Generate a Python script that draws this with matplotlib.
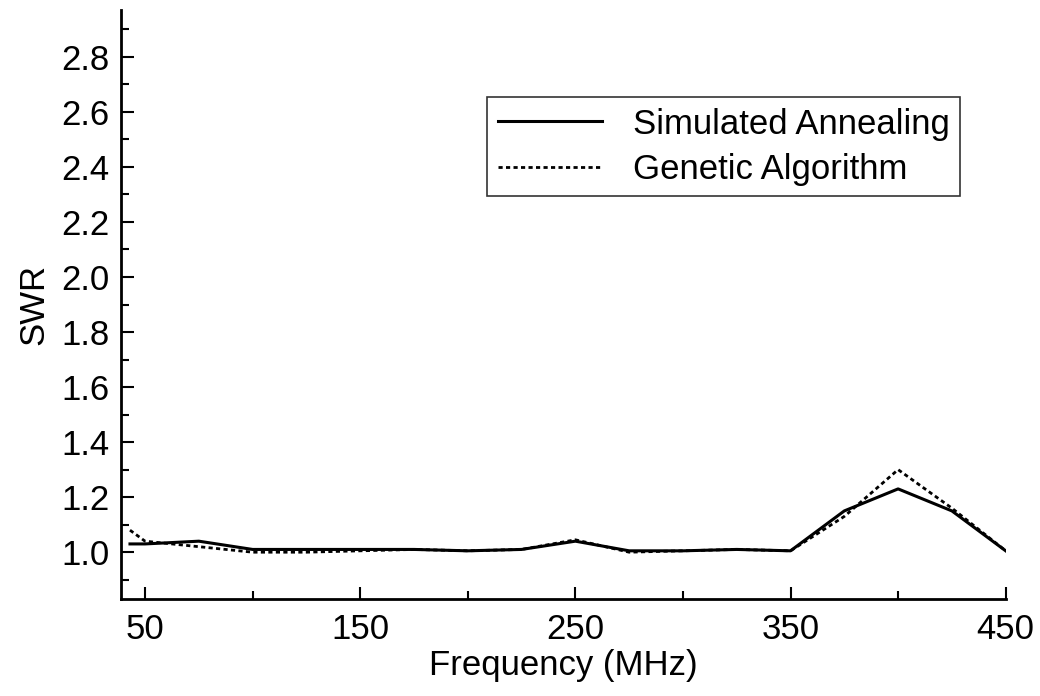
import numpy as np
import matplotlib
matplotlib.use("Agg")
import matplotlib.pyplot as plt
from matplotlib.ticker import MultipleLocator

# frequencies (MHz) and SWR
freq = [43, 50, 75, 100, 125, 150, 175, 200, 225, 250, 275, 300, 325, 350, 375, 400, 425, 450]
swr_sa = [1.03, 1.03, 1.04, 1.01, 1.01, 1.01, 1.01, 1.005, 1.01, 1.04, 1.005, 1.005, 1.01, 1.005,
          1.15, 1.23, 1.15, 1.005]
swr_ga = [1.08, 1.04, 1.02, 1.0, 1.0, 1.005, 1.01, 1.005, 1.01, 1.045, 1.0, 1.005, 1.01, 1.005,
          1.13, 1.30, 1.16, 1.005]

xticks = [50, 150, 250, 350, 450]
yticks = [1.0, 1.2, 1.4, 1.6, 1.8, 2.0, 2.2, 2.4, 2.6, 2.8]

plt.rcParams['font.family'] = ['Liberation Sans', 'DejaVu Sans']

fig = plt.figure(figsize=(10.4, 6.96), dpi=100)
ax = fig.add_axes([0.1163, 0.1394, 0.8507, 0.8462])

ax.plot(freq, swr_sa, color='black', lw=2.2, label='Simulated Annealing')
ax.plot(freq, swr_ga, color='black', lw=2.0, ls=(0, (1.5, 1.2)), label='Genetic Algorithm')

ax.set_xlim(38.8, 450)
ax.set_ylim(0.83, 2.97)
ax.set_xticks(xticks)
ax.set_yticks(yticks)
ax.set_yticklabels(["%.1f" % v for v in yticks])
ax.xaxis.set_minor_locator(MultipleLocator(50))
ax.yaxis.set_minor_locator(MultipleLocator(0.1))
ax.tick_params(which='both', direction='in', width=1.5, labelsize=25)
ax.tick_params(which='major', length=9)
ax.tick_params(which='minor', length=6)
ax.tick_params(axis='x', pad=10)
ax.tick_params(axis='y', pad=8)

for s in ['top', 'right']:
    ax.spines[s].set_visible(False)
for s in ['left', 'bottom']:
    ax.spines[s].set_linewidth(2)

ax.set_xlabel("Frequency (MHz)", fontsize=25)
ax.xaxis.set_label_coords(0.5, -0.085)
ax.set_ylabel("SWR", fontsize=25, labelpad=8)

leg = ax.legend(loc='upper left', bbox_to_anchor=(0.414, 0.852), borderaxespad=0,
                fontsize=25, frameon=True, fancybox=False, edgecolor='black',
                handlelength=3.0, borderpad=0.3, labelspacing=0.35, handletextpad=0.9)
leg.get_frame().set_linewidth(1.2)

fig.savefig("out.png", dpi=100)
